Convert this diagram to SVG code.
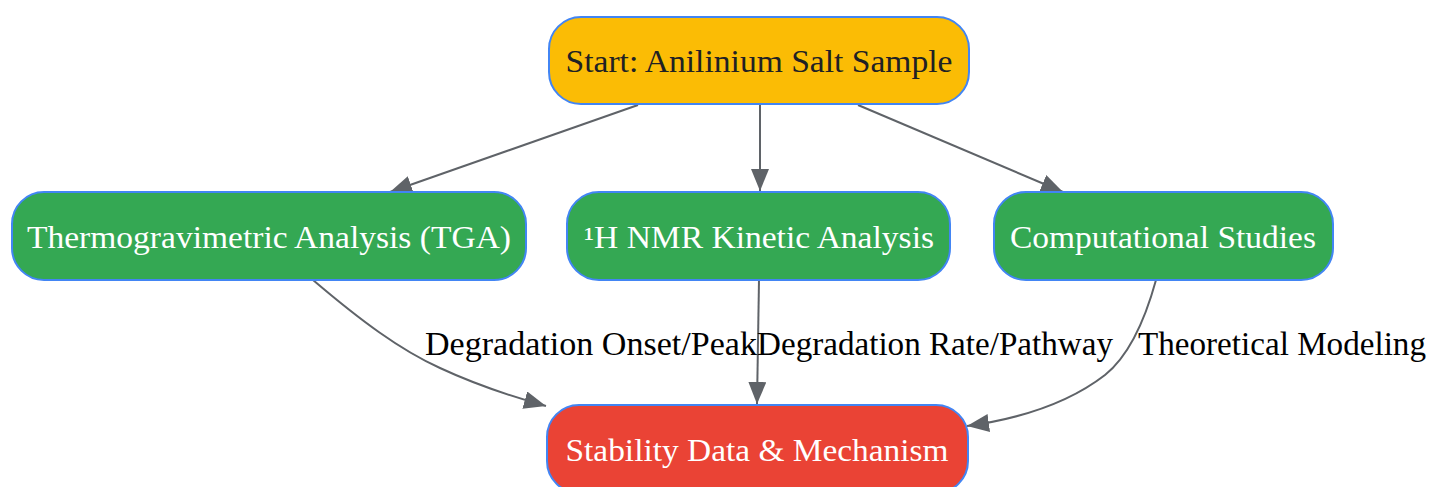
<svg xmlns="http://www.w3.org/2000/svg" width="1431" height="487" viewBox="0 0 1431 487">
<style>
.node rect{stroke:#4285F4;stroke-width:2}
.lbl{font-family:"Liberation Serif",serif;font-size:31px;text-anchor:middle}
.elbl{font-family:"Liberation Serif",serif;font-size:33px;fill:#000}
.edge{fill:none;stroke:#5F6368;stroke-width:2}
</style>
<defs>
<marker id="ah" viewBox="0 0 22 18" refX="22" refY="9" markerWidth="22" markerHeight="18" markerUnits="userSpaceOnUse" orient="auto">
<path d="M0,0 L22,9 L0,18 z" fill="#5F6368"/>
</marker>
</defs>
<rect width="1431" height="487" fill="#fff"/>
<g id="connectors">
<path class="edge" d="M638,105 L390,192" marker-end="url(#ah)"/>
<path class="edge" d="M760,105 L760,191" marker-end="url(#ah)"/>
<path class="edge" d="M858,105 L1063,192" marker-end="url(#ah)"/>
<path class="edge" d="M313,280 C360,320 400,350 440,368 C470,382 510,396 546,406" marker-end="url(#ah)"/>
<path class="edge" d="M759,280 L757,404" marker-end="url(#ah)"/>
<path class="edge" d="M1156,280 C1145,320 1130,355 1105,375 C1070,402 1025,418 967,426" marker-end="url(#ah)"/>
<text class="elbl" x="425" y="355" textLength="332" lengthAdjust="spacingAndGlyphs">Degradation Onset/Peak</text>
<text class="elbl" x="757" y="355" textLength="356" lengthAdjust="spacingAndGlyphs">Degradation Rate/Pathway</text>
<text class="elbl" x="1138" y="355" textLength="288" lengthAdjust="spacingAndGlyphs">Theoretical Modeling</text>
</g>
<g id="start" class="node">
<rect x="549" y="17" width="420" height="87" rx="32" fill="#FBBC05"/>
<text class="lbl" x="759" y="72" fill="#202124" textLength="387" lengthAdjust="spacingAndGlyphs">Start: Anilinium Salt Sample</text>
</g>
<g id="tga" class="node">
<rect x="12" y="192" width="514" height="88" rx="32" fill="#34A853"/>
<text class="lbl" x="269" y="248" fill="#fff" textLength="484" lengthAdjust="spacingAndGlyphs">Thermogravimetric Analysis (TGA)</text>
</g>
<g id="nmr" class="node">
<rect x="567" y="192" width="383" height="88" rx="32" fill="#34A853"/>
<text class="lbl" x="759" y="248" fill="#fff" textLength="350" lengthAdjust="spacingAndGlyphs">¹H NMR Kinetic Analysis</text>
</g>
<g id="comp" class="node">
<rect x="994" y="192" width="339" height="88" rx="32" fill="#34A853"/>
<text class="lbl" x="1163" y="248" fill="#fff" textLength="306" lengthAdjust="spacingAndGlyphs">Computational Studies</text>
</g>
<g id="stab" class="node">
<rect x="547" y="405" width="421" height="88" rx="32" fill="#EA4335"/>
<text class="lbl" x="757" y="461" fill="#fff" textLength="383" lengthAdjust="spacingAndGlyphs">Stability Data &amp; Mechanism</text>
</g>
</svg>
